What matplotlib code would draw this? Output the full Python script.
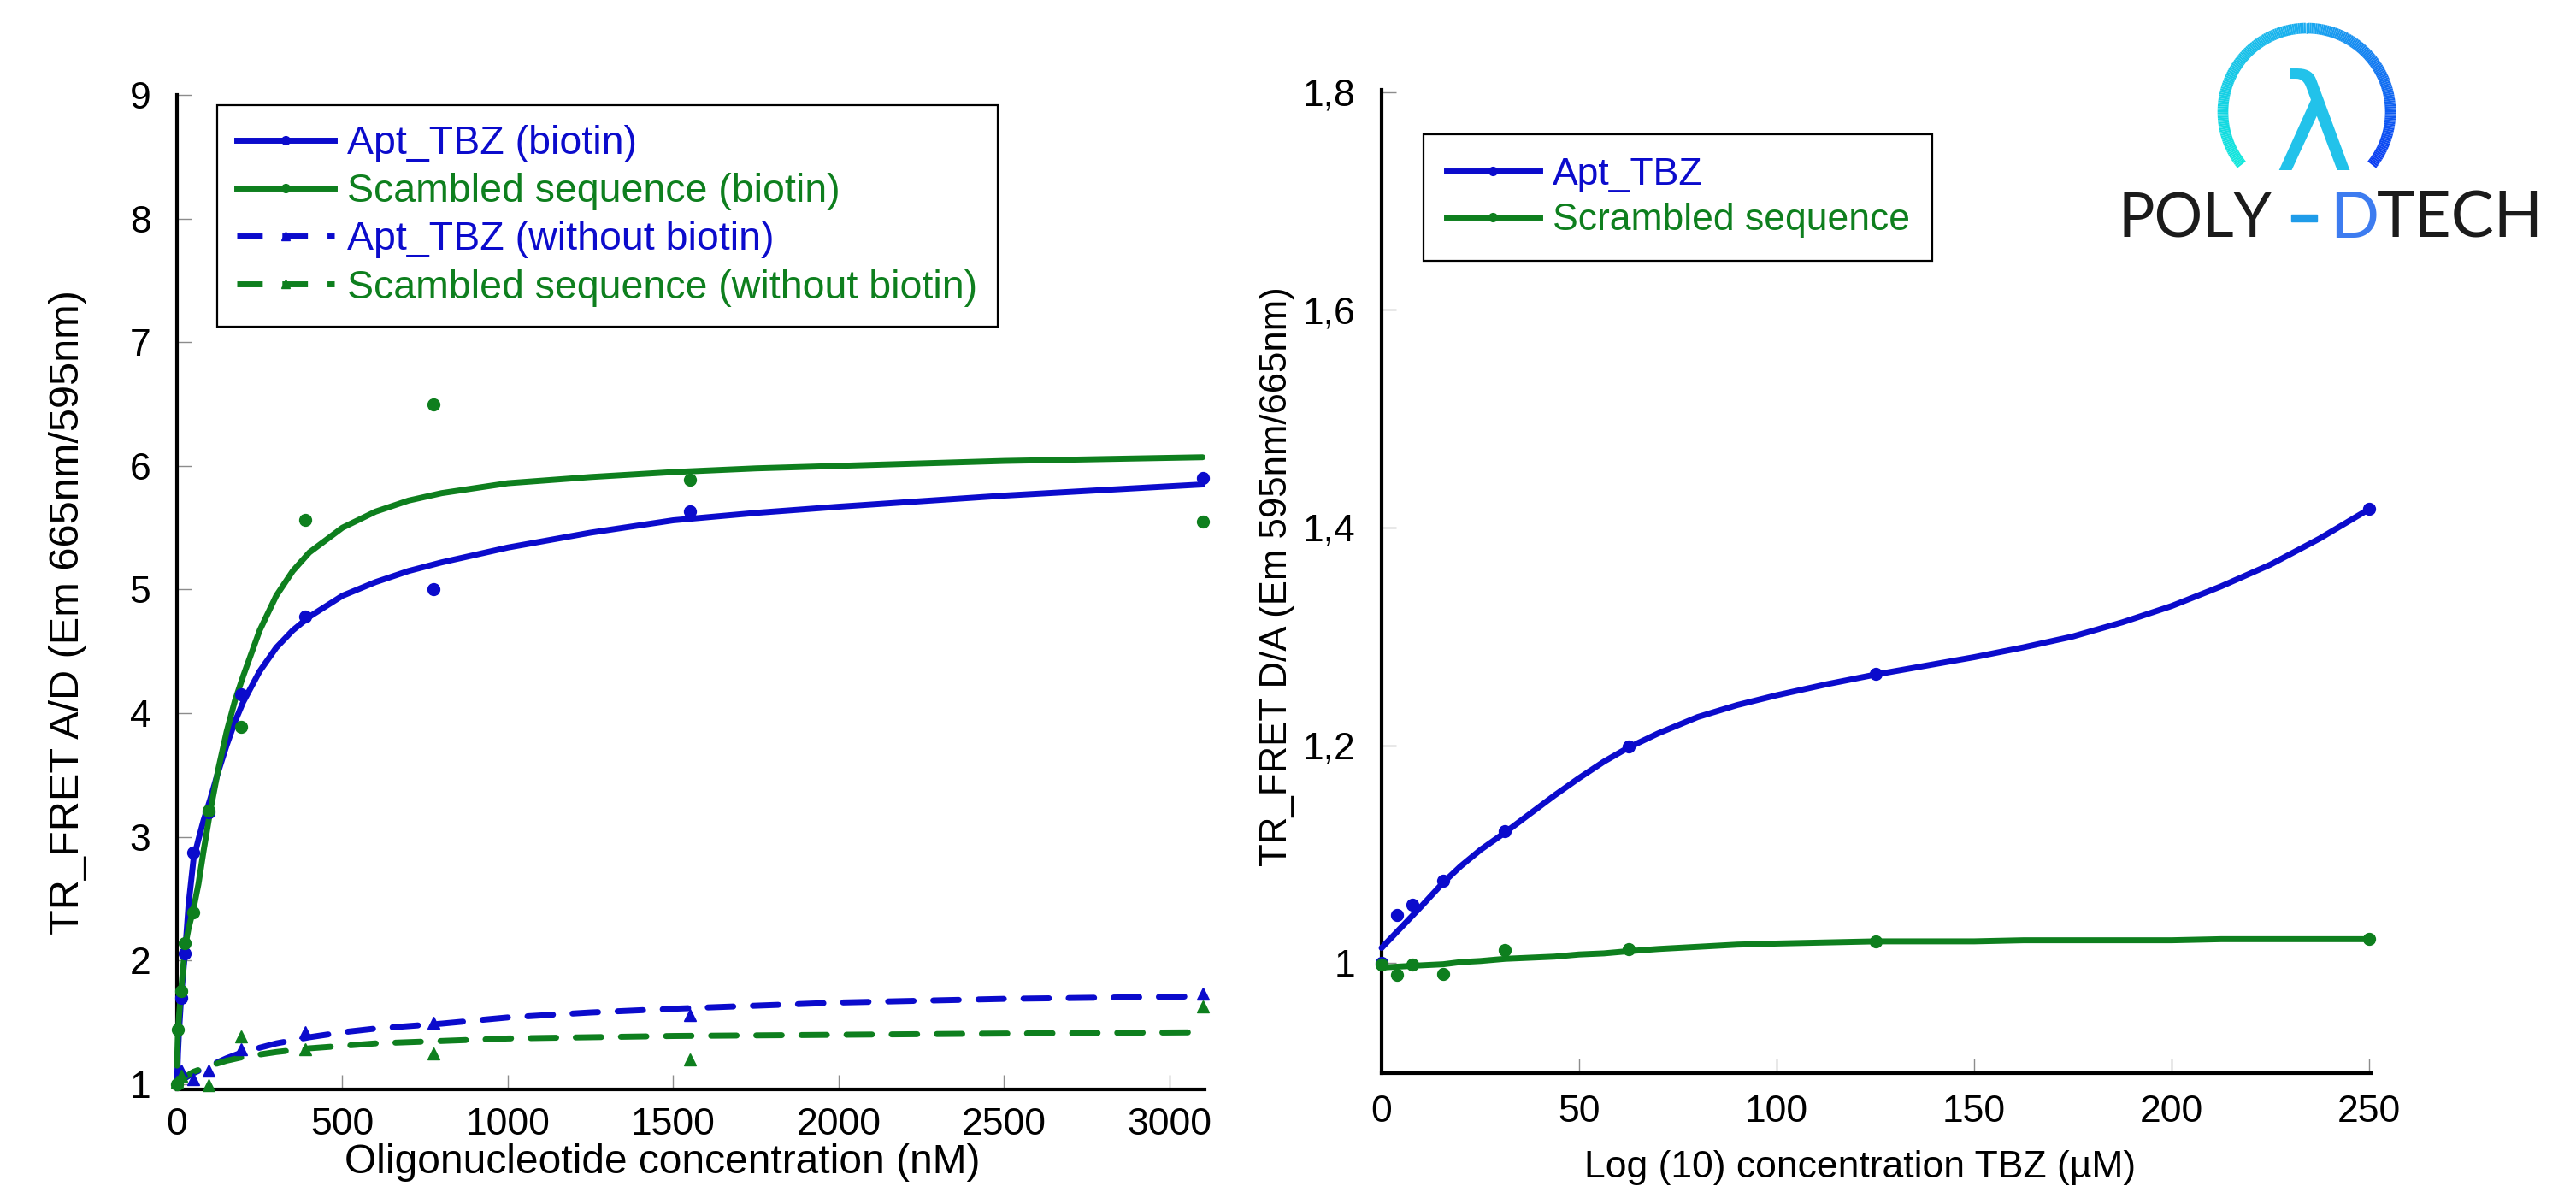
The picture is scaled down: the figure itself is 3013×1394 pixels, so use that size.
import numpy as np
import matplotlib
matplotlib.use("Agg")
import matplotlib.pyplot as plt
from matplotlib.lines import Line2D
from matplotlib.collections import LineCollection
from matplotlib.colors import LinearSegmentedColormap
from matplotlib.patches import Rectangle

plt.rcParams['font.family'] = ['Liberation Sans', 'DejaVu Sans']

# %% data, left panel (oligonucleotide titration, nM)
apt_bio_x = [12.1, 24.2, 48.4, 96.9, 193.75, 387.5, 775, 1550, 3100]
apt_bio_y = [1.70, 2.06, 2.87, 3.20, 4.15, 4.78, 5.00, 5.63, 5.90]
scr_bio_x = [0, 3.03, 12.1, 24.2, 48.4, 96.9, 193.75, 387.5, 775, 1550, 3100]
scr_bio_y = [1.00, 1.44, 1.75, 2.14, 2.39, 3.21, 3.89, 5.56, 6.50, 5.89, 5.55]
apt_nobio_x = [12.1, 48.4, 96.9, 193.75, 387.5, 775, 1550, 3100]
apt_nobio_y = [1.11, 1.04, 1.11, 1.28, 1.42, 1.50, 1.56, 1.73]
scr_nobio_x = [0, 12.1, 96.9, 193.75, 387.5, 775, 1550, 3100]
scr_nobio_y = [1.02, 1.07, 0.99, 1.39, 1.28, 1.25, 1.20, 1.63]

# fitted curves
fit_x = [0, 3, 6, 12, 18, 25, 35, 50, 65, 80, 100, 125, 150, 175, 200, 250, 300, 350, 400,
         500, 600, 700, 800, 1000, 1250, 1500, 1750, 2000, 2500, 3100]
apt_bio_fit = [1.00, 1.25, 1.42, 1.68, 1.88, 2.08, 2.45, 2.82, 2.98, 3.13, 3.30, 3.53, 3.74, 3.93,
               4.09, 4.34, 4.53, 4.67, 4.78, 4.95, 5.06, 5.15, 5.22, 5.34, 5.46, 5.56, 5.62, 5.67,
               5.76, 5.85]
scr_bio_fit = [1.15, 1.42, 1.55, 1.74, 1.93, 2.12, 2.26, 2.42, 2.62, 2.88, 3.20, 3.55, 3.85, 4.10,
               4.30, 4.67, 4.95, 5.15, 5.30, 5.50, 5.63, 5.72, 5.78, 5.86, 5.91, 5.95, 5.98, 6.00,
               6.04, 6.07]
dash_x = [0, 25, 50, 100, 150, 200, 300, 400, 500, 600, 800, 1000, 1250, 1500, 2000, 2500, 3100]
apt_nobio_fit = [1.00, 1.05, 1.09, 1.15, 1.21, 1.26, 1.33, 1.38, 1.42, 1.45, 1.49, 1.54, 1.58,
                 1.61, 1.66, 1.69, 1.71]
scr_nobio_fit = [1.00, 1.06, 1.10, 1.15, 1.19, 1.22, 1.26, 1.29, 1.31, 1.33, 1.35, 1.37, 1.38,
                 1.39, 1.40, 1.41, 1.42]

# %% data, right panel (TBZ, uM)
tbz_x = [0, 3.90625, 7.8125, 15.625, 31.25, 62.5, 125, 250]
tbz_apt = [1.00, 1.044, 1.054, 1.076, 1.121, 1.199, 1.266, 1.417]
tbz_scr = [0.999, 0.989, 0.999, 0.990, 1.012, 1.013, 1.020, 1.022]
tbz_fit_x = [0, 5, 10, 15.6, 20, 25, 31.25, 37.5, 43.75, 50, 56.25, 62.5, 70, 80, 90, 100, 112.5,
             125, 137.5, 150, 162.5, 175, 187.5, 200, 212.5, 225, 237.5, 250]
tbz_apt_fit = [1.014, 1.033, 1.052, 1.074, 1.089, 1.104, 1.120, 1.137, 1.154, 1.170, 1.185, 1.198,
               1.211, 1.226, 1.237, 1.246, 1.256, 1.265, 1.273, 1.281, 1.290, 1.300, 1.313, 1.328,
               1.346, 1.366, 1.390, 1.417]
tbz_scr_fit = [0.996, 0.997, 0.998, 0.999, 1.001, 1.002, 1.004, 1.005, 1.006, 1.008, 1.009, 1.011,
               1.013, 1.015, 1.017, 1.018, 1.019, 1.020, 1.020, 1.020, 1.021, 1.021, 1.021, 1.021,
               1.022, 1.022, 1.022, 1.022]

labels_left = ["Apt_TBZ (biotin)", "Scambled sequence (biotin)",
               "Apt_TBZ (without biotin)", "Scambled sequence (without biotin)"]
labels_right = ["Apt_TBZ", "Scrambled sequence"]

BLUE = '#0b0bcc'
GREEN = '#0e7f1e'
W, H = 3013, 1394
LW = 5
DASH = (0, (4.3, 3.3))


def style(ax, xpad, ypad):
    for s in ['top', 'right']:
        ax.spines[s].set_visible(False)
    for s in ['left', 'bottom']:
        ax.spines[s].set_linewidth(3.0)
        ax.spines[s].set_color('black')
    ax.tick_params(direction='in', length=12, width=1.0, color='#8c8c8c',
                   labelsize=32, labelcolor='black')
    ax.tick_params(axis='x', pad=xpad)
    ax.tick_params(axis='y', pad=ypad)


fig = plt.figure(figsize=(W / 100, H / 100), dpi=100)

# %% left panel
ax1 = fig.add_axes([207 / W, 1 - 1274 / H, 1202 / W, 1163 / H])
ax1.plot(dash_x, apt_nobio_fit, color=BLUE, lw=LW, ls=DASH, dash_capstyle='round', zorder=3, clip_on=False)
ax1.plot(dash_x, scr_nobio_fit, color=GREEN, lw=LW, ls=DASH, dash_capstyle='round', zorder=3, clip_on=False)
ax1.plot(fit_x, apt_bio_fit, color=BLUE, lw=LW, solid_capstyle='round', solid_joinstyle='round',
         zorder=3, clip_on=False)
ax1.plot(fit_x, scr_bio_fit, color=GREEN, lw=LW, solid_capstyle='round', solid_joinstyle='round',
         zorder=3, clip_on=False)
ax1.plot(apt_nobio_x, apt_nobio_y, '^', color=BLUE, ms=10, zorder=4, clip_on=False)
ax1.plot(scr_nobio_x, scr_nobio_y, '^', color=GREEN, ms=10, zorder=4, clip_on=False)
ax1.plot(apt_bio_x, apt_bio_y, 'o', color=BLUE, ms=10, zorder=4, clip_on=False)
ax1.plot(scr_bio_x, scr_bio_y, 'o', color=GREEN, ms=10, zorder=4, clip_on=False)

ax1.set_xlim(0, 3106)
ax1.set_ylim(0.958, 9.0)
ax1.set_xticks(np.arange(0, 3001, 500))
ax1.set_yticks(np.arange(1, 10, 1))
style(ax1, 15, 22)
ax1.set_xlabel("Oligonucleotide concentration (nM)", fontsize=34.5)
ax1.xaxis.set_label_coords(0.472, -0.054)
ax1.set_ylabel("TR_FRET A/D (Em 665nm/595nm)", fontsize=35)
ax1.yaxis.set_label_coords(-0.087, 0.48)

h1 = [Line2D([], [], color=BLUE, lw=LW, marker='o', ms=7),
      Line2D([], [], color=GREEN, lw=LW, marker='o', ms=7),
      Line2D([], [], color=BLUE, lw=LW, ls=DASH, marker='^', ms=7),
      Line2D([], [], color=GREEN, lw=LW, ls=DASH, marker='^', ms=7)]
leg1 = ax1.legend(h1, labels_left, loc='upper left', bbox_to_anchor=(254 / W, 1 - 123 / H),
                  bbox_transform=fig.transFigure, borderaxespad=0, fancybox=False,
                  edgecolor='black', framealpha=1, fontsize=33.5, handlelength=2.45,
                  handletextpad=0.32, borderpad=0.5, labelspacing=0.26, labelcolor='linecolor')
leg1.get_frame().set_linewidth(1.6)

# %% right panel
ax2 = fig.add_axes([1616 / W, 1 - 1255 / H, 1157 / W, 1150 / H])
ax2.plot(tbz_fit_x, tbz_apt_fit, color=BLUE, lw=LW, solid_capstyle='round', solid_joinstyle='round',
         zorder=3, clip_on=False)
ax2.plot(tbz_fit_x, tbz_scr_fit, color=GREEN, lw=LW, solid_capstyle='round', solid_joinstyle='round',
         zorder=3, clip_on=False)
ax2.plot(tbz_x, tbz_apt, 'o', color=BLUE, ms=10, zorder=4, clip_on=False)
ax2.plot(tbz_x, tbz_scr, 'o', color=GREEN, ms=10, zorder=4, clip_on=False)

ax2.set_xlim(0, 250.4)
ax2.set_ylim(0.899, 1.802)
ax2.set_xticks(np.arange(0, 251, 50))
ax2.set_yticks([1.0, 1.2, 1.4, 1.6, 1.8])
ax2.set_yticklabels(["1", "1,2", "1,4", "1,6", "1,8"])
style(ax2, 18, 22)
ax2.set_xlabel("Log (10) concentration TBZ (µM)", fontsize=32)
ax2.xaxis.set_label_coords(0.484, -0.078)
ax2.set_ylabel("TR_FRET D/A (Em 595nm/665nm)", fontsize=31.5)
ax2.yaxis.set_label_coords(-0.088, 0.505)

h2 = [Line2D([], [], color=BLUE, lw=LW, marker='o', ms=7),
      Line2D([], [], color=GREEN, lw=LW, marker='o', ms=7)]
leg2 = ax2.legend(h2, labels_right, loc='upper left', bbox_to_anchor=(1665 / W, 1 - 157 / H),
                  bbox_transform=fig.transFigure, borderaxespad=0, fancybox=False,
                  edgecolor='black', framealpha=1, fontsize=32, handlelength=2.45,
                  handletextpad=0.34, borderpad=0.6, labelspacing=0.28, labelcolor='linecolor')
leg2.get_frame().set_linewidth(1.6)

# %% logo (pixel coords overlay)
lax = fig.add_axes([0, 0, 1, 1])
lax.set_xlim(0, W)
lax.set_ylim(H, 0)
lax.axis('off')
lax.patch.set_alpha(0)

cx, cy, r = 2698, 131, 98
t = np.linspace(np.radians(219), np.radians(-39), 200)
px = cx + r * np.cos(t)
py = cy - r * np.sin(t)
segs = np.stack([np.column_stack([px[:-1], py[:-1]]), np.column_stack([px[1:], py[1:]])], axis=1)
cmap = LinearSegmentedColormap.from_list('logo', ['#12e8dc', '#1aaaf0', '#0a3cf2'])
lc = LineCollection(segs, colors=cmap(np.linspace(0, 1, len(segs))), linewidths=9.1, capstyle='butt')
lax.add_collection(lc)
lax.text(2706, 199, 'λ', fontsize=112, color='#22c2ea', ha='center', va='baseline',
         family='DejaVu Sans')
lax.text(2477, 278, 'POLY', fontsize=51, color='#1b1b1b', ha='left', va='baseline', family='Lato')
lax.add_patch(Rectangle((2680, 251), 30, 8, color='#1f9ce9'))
lax.text(2754, 278, 'D', fontsize=54, color='#3d7cf0', ha='center', va='baseline', family='Lato')
lax.text(2975, 278, 'TECH', fontsize=54, color='#1b1b1b', ha='right', va='baseline', family='Lato')

fig.savefig("out.png", dpi=100)
